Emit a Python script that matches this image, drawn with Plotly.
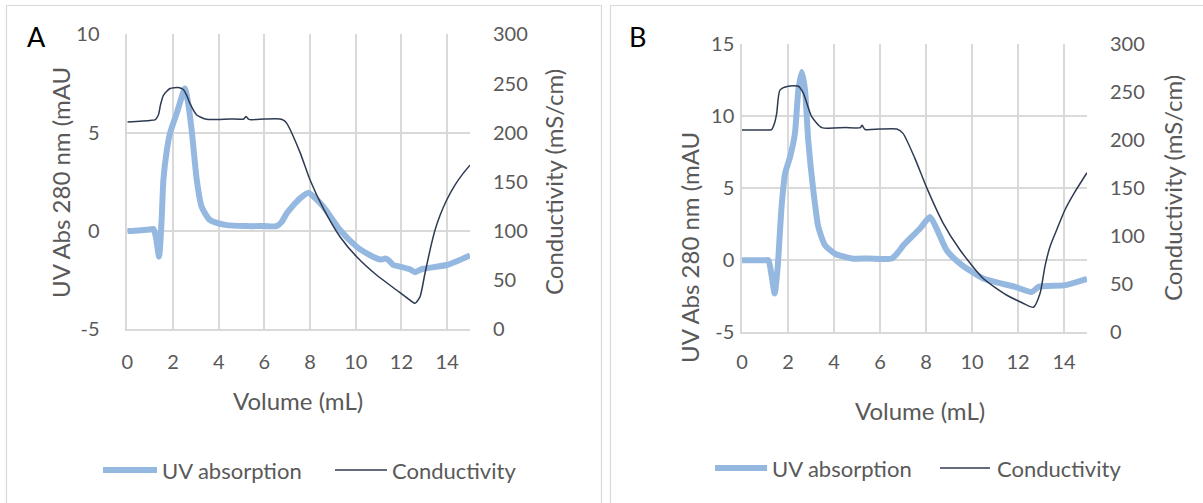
import plotly.graph_objects as go

W, H = 1203, 503

# ---------------- data ----------------
a_uv_x = [0, 0.5, 1.0, 1.15, 1.25, 1.39, 1.5, 1.58, 1.73, 1.87, 2.16, 2.35, 2.52, 2.65, 2.82, 3.04, 3.25,
          3.62, 4.35, 5.2, 6.0, 6.54, 6.75, 6.98, 7.3, 7.56, 7.93, 8.1, 8.58, 9.31, 10.04, 10.5, 10.91,
          11.1, 11.3, 11.45, 11.64, 11.93, 12.37, 12.59, 12.8, 12.96, 13.98, 14.5, 15.0]
a_uv_y = [0.0, 0.03, 0.08, 0.1, -0.3, -1.3, 0.5, 2.6, 4.1, 4.97, 5.98, 6.7, 7.25, 6.6, 5.1, 2.6, 1.24,
          0.56, 0.3, 0.25, 0.25, 0.25, 0.45, 0.9, 1.35, 1.66, 1.95, 1.8, 1.24, 0.05, -0.8, -1.15, -1.39,
          -1.45, -1.4, -1.5, -1.73, -1.81, -1.95, -2.1, -1.98, -1.92, -1.73, -1.5, -1.25]

a_cond_x = [0, 1.0, 1.21, 1.36, 1.45, 1.58, 1.87, 2.23, 2.45, 2.6, 2.74, 3.04, 3.47, 4.5, 5.1, 5.2, 5.32,
            6.0, 6.68, 6.85, 6.98, 7.56, 8.0, 8.58, 9.31, 10.04, 10.91, 11.78, 12.3, 12.59, 12.81,
            13.03, 13.25, 13.47, 13.69, 13.98, 14.34, 14.7, 15.0]
a_cond_y = [211, 212.5, 213, 218, 228, 238, 245, 246, 244, 238, 229.8, 218, 213.6, 214, 214, 216.5, 213.5,
            214, 214, 212.5, 209.5, 180, 151.8, 123, 94.2, 73.8, 55.2, 40, 31, 26.4, 33,
            57, 80.6, 101, 116, 131.5, 146.7, 158.6, 167]

b_uv_x = [0, 1.0, 1.15, 1.28, 1.42, 1.55, 1.72, 1.87, 2.09, 2.3, 2.45, 2.6, 2.74, 2.88, 3.1, 3.32, 3.61,
          4.04, 4.77, 5.5, 6.51, 6.8, 7.0, 7.3, 7.74, 8.17, 8.46, 8.9, 9.48, 10.49, 11.87, 12.6, 12.9,
          14.07, 15.0]
b_uv_y = [0, 0, 0.0, -1.0, -2.3, -0.5, 3.7, 6.0, 7.16, 8.78, 11.8, 13.05, 11.8, 8.3, 4.85, 2.3, 1.04,
          0.46, 0.12, 0.12, 0.12, 0.58, 1.0, 1.5, 2.2, 3.0, 2.2, 0.69, -0.23, -1.27, -1.85, -2.2, -1.85,
          -1.73, -1.3]

b_cond_x = [0, 1.0, 1.29, 1.42, 1.51, 1.65, 2.01, 2.45, 2.67, 3.03, 3.47, 4.5, 5.15, 5.22, 5.35, 6.0,
            6.73, 7.0, 7.5, 8.03, 8.75, 9.48, 10.49, 11.5, 12.2, 12.67, 12.96, 13.17, 13.39, 13.68,
            14.04, 14.48, 15.0]
b_cond_y = [210.5, 210.5, 211, 218, 228, 252, 256, 256, 248.7, 224.4, 213, 213, 213, 215.5, 211, 211.5,
            211.5, 207, 182, 150.5, 113.4, 85.6, 56, 38.8, 30.5, 26, 40.6, 68.3, 89, 106.5,
            127.3, 146.3, 166]

x_ticks = [0, 2, 4, 6, 8, 10, 12, 14]
a_uv_ticks = [-5, 0, 5, 10]
b_uv_ticks = [-5, 0, 5, 10, 15]
cond_ticks = [0, 50, 100, 150, 200, 250, 300]

series_names = ["UV absorption", "Conductivity"]
panel_labels = ["A", "B"]
x_title = "Volume (mL)"
uv_title = "UV Abs 280 nm (mAU"
cond_title = "Conductivity (mS/cm)"

# ---------------- style ----------------
UV_COLOR = "#95B8E1"
COND_COLOR = "#2E3B52"
GRID = "#D9D9D9"
TXT = "#595959"
FONT = "Lato"


def px(x):
    return x / W


def py(y):
    return 1 - y / H


fig = go.Figure()
line_uv = dict(color=UV_COLOR, width=6, shape="spline", smoothing=0.6)
line_cond = dict(color=COND_COLOR, width=1.5, shape="spline", smoothing=0.6)

fig.add_trace(go.Scatter(x=a_uv_x, y=a_uv_y, mode="lines", line=line_uv, name=series_names[0],
                         xaxis="x", yaxis="y", showlegend=False))
fig.add_trace(go.Scatter(x=a_cond_x, y=a_cond_y, mode="lines", line=line_cond, name=series_names[1],
                         xaxis="x", yaxis="y2", showlegend=False))
fig.add_trace(go.Scatter(x=b_uv_x, y=b_uv_y, mode="lines", line=line_uv, name=series_names[0],
                         xaxis="x2", yaxis="y3", showlegend=False))
fig.add_trace(go.Scatter(x=b_cond_x, y=b_cond_y, mode="lines", line=line_cond, name=series_names[1],
                         xaxis="x2", yaxis="y4", showlegend=False))

tickfont = dict(family=FONT, size=20, color=TXT)


def ttext(vals):
    return [str(v) for v in vals]  # plain hyphen-minus like the reference


def xax(domain, anchor, standoff):
    return dict(domain=domain, anchor=anchor, range=[0, 15], tickvals=x_ticks, ticktext=ttext(x_ticks),
                showgrid=True, gridcolor=GRID, gridwidth=1.5, zeroline=False, showline=True,
                linecolor=GRID, linewidth=1.5, ticks="", tickfont=tickfont, ticklabelstandoff=standoff,
                automargin=False)


def yax_left(domain, anchor, rng, vals, standoff):
    return dict(domain=domain, anchor=anchor, range=rng, tickvals=vals, ticktext=ttext(vals),
                showgrid=True, gridcolor=GRID, gridwidth=1.5, zeroline=False, showline=True,
                linecolor=GRID, linewidth=1.5, ticks="", tickfont=tickfont, ticklabelstandoff=standoff,
                automargin=False)


def yax_right(over, anchor, standoff):
    return dict(overlaying=over, anchor=anchor, side="right", range=[0, 300], tickvals=cond_ticks,
                ticktext=ttext(cond_ticks), showgrid=False, zeroline=False, showline=False, ticks="",
                tickfont=tickfont, ticklabelstandoff=standoff, automargin=False)


a_xdom = [px(127.3), px(470)]
a_ydom = [py(329.3), py(34.4)]
b_xdom = [px(742), px(1087)]
b_ydom = [py(332.3), py(44)]

shapes = [
    dict(type="rect", xref="paper", yref="paper", x0=px(6.5), x1=px(601.5), y0=-0.05, y1=py(5.5),
         line=dict(color=GRID, width=1.2), fillcolor="rgba(0,0,0,0)", layer="below"),
    dict(type="rect", xref="paper", yref="paper", x0=px(610.5), x1=1.05, y0=-0.05, y1=py(5.5),
         line=dict(color=GRID, width=1.2), fillcolor="rgba(0,0,0,0)", layer="below"),
]

annotations = []


def ann(text, x, y, size, angle=0, color=TXT, xanchor="center"):
    annotations.append(dict(text=text, x=px(x), y=py(y), xref="paper", yref="paper", showarrow=False,
                            textangle=angle, xanchor=xanchor, yanchor="middle",
                            font=dict(family=FONT, size=size, color=color)))


# panel labels
ann(panel_labels[0], 36, 37, 27, color="#000000")
ann(panel_labels[1], 637, 37, 27, color="#000000")
# axis titles
ann(uv_title, 61, 182, 24, angle=-90)
ann(cond_title, 554, 182, 24, angle=-90)
ann(x_title, 298, 400, 24)
ann(uv_title, 689, 248, 24, angle=-90)
ann(cond_title, 1172, 188, 24, angle=-90)
ann(x_title, 920, 410, 24)

# legends (drawn manually)
legend_rows = [
    (103, 157, 160, 335, 387, 390, 470),
    (715, 767, 770, 940, 990, 995, 468),
]
for u0, u1, ut, c0, c1, ct, ly in legend_rows:
    shapes.append(dict(type="line", xref="paper", yref="paper", x0=px(u0), x1=px(u1), y0=py(ly), y1=py(ly),
                       line=dict(color=UV_COLOR, width=6)))
    shapes.append(dict(type="line", xref="paper", yref="paper", x0=px(c0), x1=px(c1), y0=py(ly), y1=py(ly),
                       line=dict(color=COND_COLOR, width=1.5)))
    ann(series_names[0], ut, ly, 22, xanchor="left")
    ann(series_names[1], ct, ly, 22, xanchor="left")

fig.update_layout(
    width=W, height=H, margin=dict(l=0, r=0, t=0, b=0, autoexpand=False),
    paper_bgcolor="white", plot_bgcolor="white",
    showlegend=False,
    xaxis=xax(a_xdom, "y", 14),
    yaxis=yax_left(a_ydom, "x", [-5, 10], a_uv_ticks, 22),
    yaxis2=yax_right("y", "x", 22),
    xaxis2=xax(b_xdom, "y3", 11),
    yaxis3=yax_left(b_ydom, "x2", [-5, 15], b_uv_ticks, 2),
    yaxis4=yax_right("y3", "x2", 22),
    shapes=shapes,
    annotations=annotations,
)

fig.write_html("out.html")
